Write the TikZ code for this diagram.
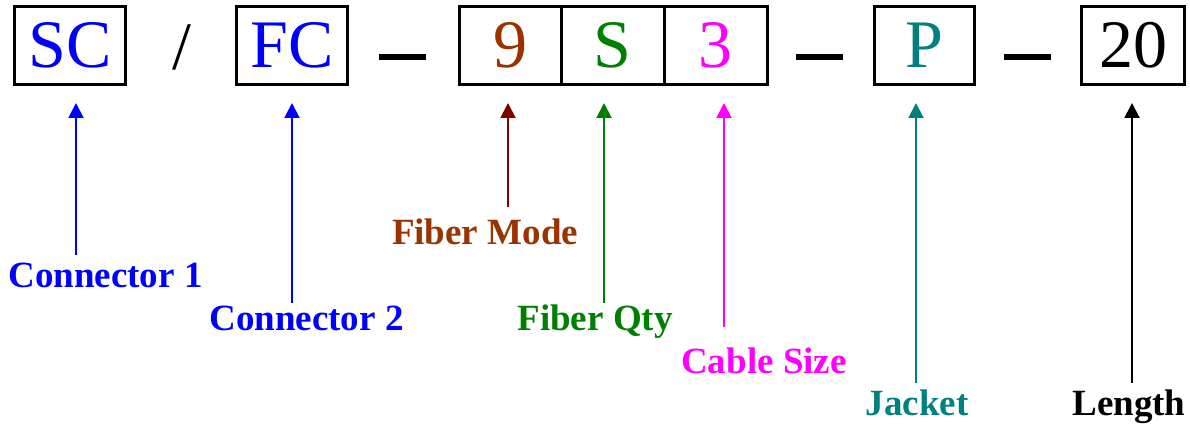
\documentclass[tikz,border=0pt]{standalone}
\usepackage{fontspec}
\setmainfont{Liberation Serif}
\usetikzlibrary{arrows.meta,positioning}

\definecolor{connblue}{HTML}{0000FF}
\definecolor{modebrown}{HTML}{993300}
\definecolor{modemaroon}{HTML}{800000}
\definecolor{qtygreen}{HTML}{008000}
\definecolor{sizemagenta}{HTML}{FF00FF}
\definecolor{jackteal}{HTML}{008080}

\begin{document}
\begin{tikzpicture}[x=1pt, y=-1pt,
    field/.style={rectangle, draw, line width=3pt, inner sep=0pt, outer sep=0pt, minimum height=78pt, font=\fontsize{68}{70}\selectfont},
    sepbar/.style={rectangle, fill=black, inner sep=0pt, minimum width=47pt, minimum height=6pt},
    tag/.style={anchor=base, inner sep=0pt, font=\fontsize{37}{40}\selectfont\bfseries},
    pointer/.style={-{Triangle[length=15pt, width=15pt]}, line width=2pt, shorten >=18.5pt}
]
\useasboundingbox (0,0) rectangle (1190,425);

% Campi del codice
\node[field, minimum width=111pt, text=connblue] (sc) at (70,45.5) {SC};
\node[anchor=base, inner sep=0pt, font=\fontsize{68}{70}\selectfont] (slash) at (181.5,70) {/};
\node[field, minimum width=111pt, text=connblue] (fc) at (292,45.5) {FC};
\node[sepbar] (dash1) at (402.5,57) {};
\node[field, minimum width=102pt, text=modebrown] (mode) at (510,45.5) {9};
\node[field, minimum width=103pt, text=qtygreen, right=0pt of mode] (qty) {S};
\node[field, minimum width=103pt, text=sizemagenta, right=0pt of qty] (size) {3};
\node[sepbar] (dash2) at (819.5,57) {};
\node[field, minimum width=100pt, text=jackteal] (jacket) at (924.5,45.5) {P};
\node[sepbar] (dash3) at (1027.5,57) {};
\node[field, minimum width=103pt] (length) at (1133,45.5) {20};

% Etichette
\node[tag, text=connblue] (lconn1) at (105.5,287) {Connector 1};
\node[tag, text=connblue] (lconn2) at (306.5,330) {Connector 2};
\node[tag, text=modebrown] (lmode) at (485,244) {Fiber Mode};
\node[tag, text=qtygreen] (lqty) at (595,330) {Fiber Qty};
\node[tag, text=sizemagenta] (lsize) at (764,373) {Cable Size};
\node[tag, text=jackteal] (ljacket) at (917,415) {Jacket};
\node[tag] (llength) at (1129,415) {Length};

% Frecce
\coordinate (tconn1) at (76,255);
\coordinate (tconn2) at (292,303);
\coordinate (tmode) at (508,207);
\coordinate (tqty) at (604,303);
\coordinate (tsize) at (724,327);
\coordinate (tjacket) at (916,383);
\coordinate (tlength) at (1132,383);
\draw[pointer, connblue] (tconn1) -- (tconn1 |- sc.south);
\draw[pointer, connblue] (tconn2) -- (tconn2 |- fc.south);
\draw[pointer, modemaroon] (tmode) -- (tmode |- mode.south);
\draw[pointer, qtygreen] (tqty) -- (tqty |- qty.south);
\draw[pointer, sizemagenta] (tsize) -- (tsize |- size.south);
\draw[pointer, jackteal] (tjacket) -- (tjacket |- jacket.south);
\draw[pointer] (tlength) -- (tlength |- length.south);

\end{tikzpicture}
\end{document}
